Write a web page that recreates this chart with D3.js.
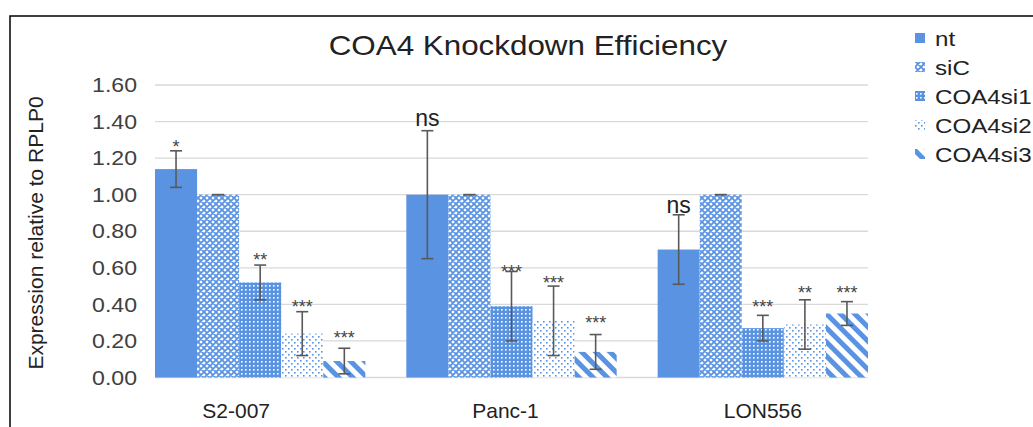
<!DOCTYPE html>
<html>
<head>
<meta charset="utf-8">
<script src="https://cdn.jsdelivr.net/npm/d3@7"></script>
<style>
  body { margin: 0; background: #fff; }
  text { font-family: "Liberation Sans", Arial, sans-serif; }
</style>
</head>
<body>
<svg id="chart" width="1033" height="427"></svg>
<script>
////////////
// DATA
////////////
const groups = ["S2-007", "Panc-1", "LON556"];
const series = ["nt", "siC", "COA4si1", "COA4si2", "COA4si3"];

// mean expression per series, one value per group
const ntMean  = [1.14, 1.00, 0.70];
const siCMean = [1.00, 1.00, 1.00];
const si1Mean = [0.52, 0.39, 0.27];
const si2Mean = [0.24, 0.31, 0.29];
const si3Mean = [0.09, 0.14, 0.35];

// error bar half widths
const ntErr  = [0.10, 0.35, 0.19];
const siCErr = [0, 0, 0];
const si1Err = [0.095, 0.19, 0.07];
const si2Err = [0.12, 0.19, 0.135];
const si3Err = [0.07, 0.095, 0.065];

// significance marks and the value they sit at
const ntSig  = ["*", "ns", "ns"];
const siCSig = ["", "", ""];
const si1Sig = ["**", "***", "***"];
const si2Sig = ["***", "***", "**"];
const si3Sig = ["***", "***", "***"];
const ntSigAt  = [1.29, 1.41, 0.93];
const siCSigAt = [0, 0, 0];
const si1SigAt = [0.67, 0.606, 0.415];
const si2SigAt = [0.415, 0.546, 0.493];
const si3SigAt = [0.243, 0.324, 0.493];

const yTicks = [0, 0.2, 0.4, 0.6, 0.8, 1.0, 1.2, 1.4, 1.6];

const means = [ntMean, siCMean, si1Mean, si2Mean, si3Mean];
const errs = [ntErr, siCErr, si1Err, si2Err, si3Err];
const sigs = [ntSig, siCSig, si1Sig, si2Sig, si3Sig];
const sigAt = [ntSigAt, siCSigAt, si1SigAt, si2SigAt, si3SigAt];

////////////
// SETTINGS
////////////
const blue = "#5a93e2";
const plot = { left: 155, right: 868, top: 85, bottom: 377.5 };
// the category labels in the source sit a little left of their groups
const labelShift = [-24, -6, 0];

const svg = d3.select("#chart");

const y = d3.scaleLinear().domain([0, 1.6]).range([plot.bottom, plot.top]);
const x0 = d3.scaleBand().domain(groups).range([plot.left, plot.right])
    .paddingInner(0.163).paddingOuter(0);
const x1 = d3.scaleBand().domain(series).range([0, x0.bandwidth()]);

// stretch text a bit wider, the source picture is widened
function widen(sel, k) {
    sel.each(function () {
        const w = this.getComputedTextLength();
        this.setAttribute("textLength", w * k);
        this.setAttribute("lengthAdjust", "spacingAndGlyphs");
    });
}

////////////
// PATTERNS
////////////
const defs = svg.append("defs");

let p = defs.append("pattern").attr("id", "pat-siC")
    .attr("patternUnits", "userSpaceOnUse").attr("width", 6).attr("height", 6);
p.append("rect").attr("width", 6).attr("height", 6).attr("fill", "#fff");
p.append("path").attr("d", "M0,0L6,6M6,0L0,6M-1,5L1,7M5,-1L7,1M-1,1L1,-1M5,7L7,5")
    .attr("stroke", blue).attr("stroke-width", 1.8);

p = defs.append("pattern").attr("id", "pat-si1")
    .attr("patternUnits", "userSpaceOnUse").attr("width", 4).attr("height", 4);
p.append("rect").attr("width", 4).attr("height", 4).attr("fill", blue);
p.append("rect").attr("x", 1).attr("y", 1).attr("width", 1.6).attr("height", 1.6).attr("fill", "#fff");

p = defs.append("pattern").attr("id", "pat-si2")
    .attr("patternUnits", "userSpaceOnUse").attr("width", 6).attr("height", 6);
p.append("rect").attr("width", 6).attr("height", 6).attr("fill", "#fff");
p.append("rect").attr("x", 0).attr("y", 0).attr("width", 1.6).attr("height", 1.6).attr("fill", blue);
p.append("rect").attr("x", 3).attr("y", 3).attr("width", 1.6).attr("height", 1.6).attr("fill", blue);

p = defs.append("pattern").attr("id", "pat-si3")
    .attr("patternUnits", "userSpaceOnUse").attr("width", 10).attr("height", 10)
    .attr("patternTransform", "rotate(-45)");
p.append("rect").attr("width", 10).attr("height", 10).attr("fill", "#fff");
p.append("rect").attr("width", 5).attr("height", 10).attr("fill", blue);

const fills = [blue, "url(#pat-siC)", "url(#pat-si1)", "url(#pat-si2)", "url(#pat-si3)"];

////////////
// DRAWING
////////////

// outer frame
svg.append("rect").attr("x", 10).attr("y", 16).attr("width", 1100).attr("height", 600)
    .attr("fill", "none").attr("stroke", "#000").attr("stroke-width", 1.5);

// gridlines
svg.append("g").selectAll("line").data(yTicks).join("line")
    .attr("x1", plot.left).attr("x2", plot.right)
    .attr("y1", d => y(d)).attr("y2", d => y(d))
    .attr("stroke", "#d9d9d9").attr("stroke-width", 1.3);

// y axis labels
const yAxis = svg.append("g").attr("transform", `translate(${plot.left - 18},0)`)
    .call(d3.axisLeft(y).tickValues(yTicks).tickFormat(d3.format(".2f")).tickSize(0).tickPadding(0));
yAxis.select(".domain").remove();
yAxis.selectAll("text").attr("font-size", 21).attr("fill", "#404040")
    .attr("font-family", "Liberation Sans, Arial, sans-serif");
widen(yAxis.selectAll("text"), 1.1);

// bars
const rows = [];
series.forEach((s, si) => {
    groups.forEach((g, gi) => {
        rows.push({ g, s, si, v: means[si][gi], e: errs[si][gi], sig: sigs[si][gi], at: sigAt[si][gi] });
    });
});

svg.append("g").selectAll("rect").data(rows).join("rect")
    .attr("x", d => x0(d.g) + x1(d.s))
    .attr("y", d => y(d.v))
    .attr("width", x1.bandwidth())
    .attr("height", d => y(0) - y(d.v))
    .attr("fill", d => fills[d.si]);

// error bars
const eb = svg.append("g").attr("stroke", "#595959").attr("stroke-width", 1.6);
rows.forEach(d => {
    const cx = x0(d.g) + x1(d.s) + x1.bandwidth() / 2;
    const t = y(d.v + d.e), b = y(d.v - d.e);
    if (d.e > 0) eb.append("line").attr("x1", cx).attr("x2", cx).attr("y1", t).attr("y2", b);
    eb.append("line").attr("x1", cx - 6).attr("x2", cx + 6).attr("y1", t).attr("y2", t);
    eb.append("line").attr("x1", cx - 6).attr("x2", cx + 6).attr("y1", b).attr("y2", b);
});

// significance marks
svg.append("g").selectAll("text").data(rows.filter(d => d.sig)).join("text")
    .attr("x", d => x0(d.g) + x1(d.s) + x1.bandwidth() / 2)
    .attr("y", d => y(d.at))
    .attr("dy", d => d.sig === "ns" ? "0.26em" : "0.62em")
    .attr("text-anchor", "middle")
    .attr("font-size", d => d.sig === "ns" ? 23 : 18)
    .attr("fill", d => d.sig === "ns" ? "#222" : "#444")
    .text(d => d.sig);

// category labels
const xAxis = svg.append("g").attr("transform", `translate(0,${plot.bottom + 40})`)
    .call(d3.axisBottom(x0).tickSize(0).tickPadding(0));
xAxis.select(".domain").remove();
xAxis.selectAll("text").attr("font-size", 21).attr("fill", "#222").attr("dy", 0)
    .attr("dx", (d, i) => labelShift[i])
    .attr("font-family", "Liberation Sans, Arial, sans-serif");

// title
const title = svg.append("text").attr("x", 528).attr("y", 55)
    .attr("text-anchor", "middle").attr("font-size", 28).attr("fill", "#222")
    .text("COA4 Knockdown Efficiency");
widen(title, 1.12);

// y axis title
svg.append("text")
    .attr("transform", "translate(43,233) rotate(-90)")
    .attr("text-anchor", "middle").attr("font-size", 21).attr("fill", "#222")
    .text("Expression relative to RPLP0");

// legend
const legend = svg.append("g").attr("transform", "translate(915,38)");
const items = legend.selectAll("g").data(series).join("g")
    .attr("transform", (d, i) => `translate(0,${i * 29})`);
items.append("rect").attr("x", 0).attr("y", -5).attr("width", 10).attr("height", 10)
    .attr("fill", (d, i) => fills[i]);
const ltext = items.append("text").attr("x", 20).attr("dy", "0.36em")
    .attr("font-size", 21).attr("fill", "#222").text(d => d);
widen(ltext, 1.15);
</script>
</body>
</html>
